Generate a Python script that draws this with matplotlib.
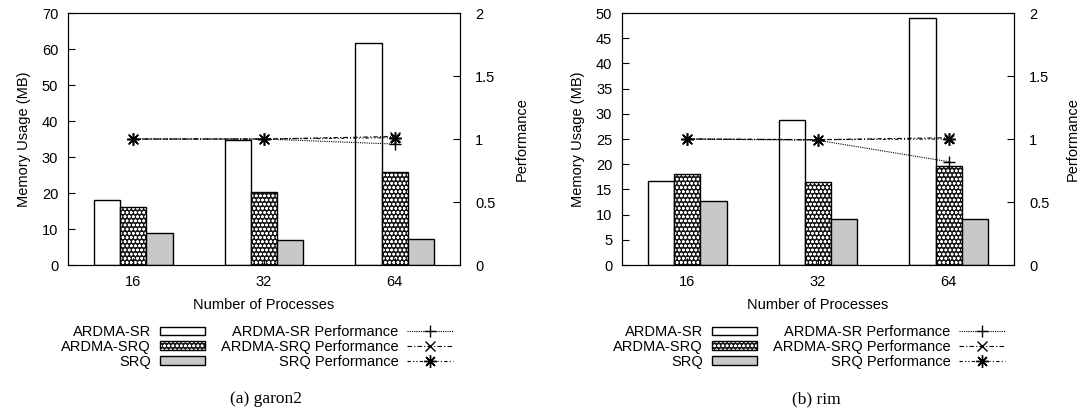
import numpy as np
import matplotlib
matplotlib.use("Agg")
from matplotlib import pyplot as plt
from matplotlib.patches import Patch
from matplotlib.lines import Line2D

plt.rcParams['font.family'] = ['Liberation Sans', 'DejaVu Sans']
plt.rcParams['font.size'] = 10.5
plt.rcParams['hatch.linewidth'] = 0.7

# dane
processes = ["16", "32", "64"]

garon2_sr = [18.0, 34.6, 61.6]
garon2_srq_ardma = [16.0, 20.4, 25.8]
garon2_srq = [8.8, 7.0, 7.1]
garon2_perf_sr = [1.0, 1.0, 0.96]
garon2_perf_srq_ardma = [1.0, 1.0, 1.02]
garon2_perf_srq = [1.0, 1.0, 1.01]

rim_sr = [16.6, 28.7, 49.1]
rim_srq_ardma = [18.0, 16.4, 19.6]
rim_srq = [12.8, 9.1, 9.1]
rim_perf_sr = [1.0, 0.99, 0.82]
rim_perf_srq_ardma = [1.0, 0.995, 1.01]
rim_perf_srq = [1.0, 0.995, 1.0]

fig = plt.figure(figsize=(10.84, 4.2), dpi=100)

asterisk = (8, 2, 0)
w = 0.2
ax_bottom = 0.369
ax_height = 0.6


def draw_panel(rect, mem, perf, ymax, ystep, caption, legend_center, caption_x, label_x):
    ax = fig.add_axes(rect)
    x = np.arange(len(processes))
    ax.bar(x - w, mem[0], w, facecolor="white", edgecolor="black", linewidth=1)
    ax.bar(x, mem[1], w, facecolor="#1a1a1a", edgecolor="white", hatch="oooo", linewidth=0)
    ax.bar(x, mem[1], w, fill=False, edgecolor="black", linewidth=1)
    ax.bar(x + w, mem[2], w, facecolor="#c8c8c8", edgecolor="black", linewidth=1)
    ax.set_xlim(-0.5, 2.5)
    ax.set_ylim(0, ymax)
    ax.set_yticks(np.arange(0, ymax + 0.1, ystep))
    ax.set_xticks(x)
    ax.set_xticklabels(processes)
    ax.tick_params(direction="in", length=5, pad=7)
    ax.set_xlabel("Number of Processes", labelpad=7)
    ax.set_ylabel("Memory Usage (MB)", labelpad=8)

    ax2 = ax.twinx()
    ax2.plot(x, perf[0], color="black", linestyle=(0, (1, 1)), linewidth=0.8,
             marker="+", markersize=9, markeredgewidth=1)
    ax2.plot(x, perf[1], color="black", linestyle=(0, (4, 2, 1, 2)), linewidth=0.8,
             marker="x", markersize=7, markeredgewidth=1)
    ax2.plot(x, perf[2], color="black", linestyle=(0, (3, 2, 1, 2, 1, 2)), linewidth=0.8,
             marker=asterisk, markersize=9, markeredgewidth=1.1)
    ax2.set_ylim(0, 2)
    ax2.set_yticks([0, 0.5, 1, 1.5, 2])
    ax2.set_yticklabels(["0", "0.5", "1", "1.5", "2"])
    ax2.tick_params(direction="in", length=5, pad=11)
    fig.text(label_x, ax_bottom + ax_height / 2, "Performance", rotation=90,
             ha="center", va="center")

    h_sr = Patch(facecolor="white", edgecolor="black", linewidth=1)
    h_ardma = (Patch(facecolor="#1a1a1a", edgecolor="white", hatch="oooo", linewidth=0),
               Patch(fill=False, edgecolor="black", linewidth=1))
    h_srq = Patch(facecolor="#c8c8c8", edgecolor="black", linewidth=1)
    l_sr = Line2D([], [], color="black", linestyle=(0, (1, 1)), linewidth=0.8,
                  marker="+", markersize=9)
    l_ardma = Line2D([], [], color="black", linestyle=(0, (4, 2, 1, 2)), linewidth=0.8,
                     marker="x", markersize=7)
    l_srq = Line2D([], [], color="black", linestyle=(0, (3, 2, 1, 2, 1, 2)), linewidth=0.8,
                   marker=asterisk, markersize=9)
    ax2.legend([h_sr, h_ardma, h_srq, l_sr, l_ardma, l_srq],
               ["ARDMA-SR", "ARDMA-SRQ", "SRQ",
                "ARDMA-SR Performance", "ARDMA-SRQ Performance", "SRQ Performance"],
               ncol=2, markerfirst=False, frameon=False, loc="upper center",
               bbox_to_anchor=(legend_center, 0.243), bbox_transform=fig.transFigure,
               handlelength=3.1, handleheight=0.55, labelspacing=0.05,
               columnspacing=1.1, handletextpad=0.6, borderpad=0, numpoints=1)

    fig.text(caption_x, 0.05, caption, ha="center", va="center",
             family="Liberation Serif", fontsize=12.5)


draw_panel([68 / 1084, ax_bottom, 392 / 1084, ax_height],
           [garon2_sr, garon2_srq_ardma, garon2_srq],
           [garon2_perf_sr, garon2_perf_srq_ardma, garon2_perf_srq],
           70, 10, "(a) garon2", 257 / 1084, 266 / 1084, 522 / 1084)

draw_panel([622 / 1084, ax_bottom, 392 / 1084, ax_height],
           [rim_sr, rim_srq_ardma, rim_srq],
           [rim_perf_sr, rim_perf_srq_ardma, rim_perf_srq],
           50, 5, "(b) rim", 809 / 1084, 816 / 1084, 1073 / 1084)

plt.savefig("out.png", dpi=100)
plt.close()
